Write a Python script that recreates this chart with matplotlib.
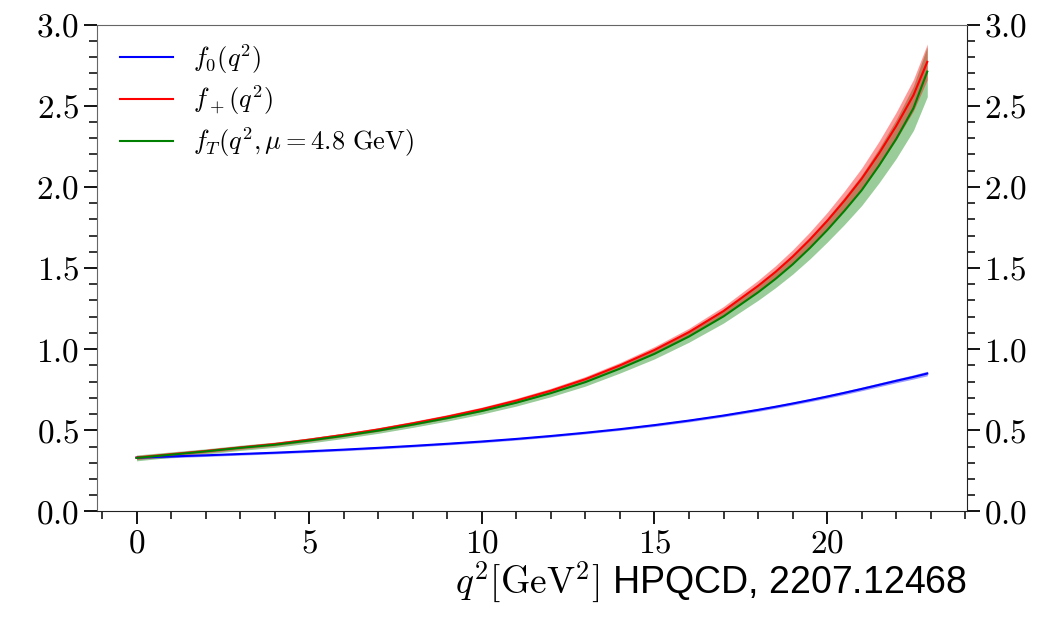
import numpy as np
import matplotlib
matplotlib.use('Agg')
import matplotlib.pyplot as plt
from matplotlib.ticker import MultipleLocator, FuncFormatter

plt.rcParams['font.family'] = ['Liberation Sans', 'DejaVu Sans']
plt.rcParams['mathtext.fontset'] = 'cm'

# form factors (B -> K, HPQCD 2207.12468)
q2 = [0, 1, 2, 3, 4, 5, 6, 7, 8, 9, 10, 11, 12, 13, 14, 15, 16, 17,
      18, 18.5, 19, 19.5, 20, 20.5, 21, 21.5, 22, 22.5, 22.9]
f0 = [0.332, 0.339, 0.346, 0.354, 0.362, 0.371, 0.381, 0.392, 0.404, 0.417,
      0.431, 0.447, 0.465, 0.485, 0.507, 0.532, 0.560, 0.591, 0.626, 0.645,
      0.665, 0.686, 0.708, 0.731, 0.755, 0.780, 0.805, 0.829, 0.850]
f0_err = [0.008, 0.008, 0.007, 0.007, 0.007, 0.007, 0.007, 0.007, 0.007, 0.007,
          0.007, 0.007, 0.007, 0.007, 0.007, 0.008, 0.008, 0.008, 0.009, 0.009,
          0.009, 0.0095, 0.010, 0.0105, 0.011, 0.0115, 0.012, 0.013, 0.014]
fplus = [0.332, 0.352, 0.372, 0.394, 0.415, 0.442, 0.472, 0.505, 0.543, 0.584,
         0.630, 0.683, 0.744, 0.815, 0.900, 0.995, 1.105, 1.235, 1.390, 1.475,
         1.570, 1.675, 1.790, 1.915, 2.050, 2.205, 2.375, 2.565, 2.770]
fplus_err = [0.012, 0.0115, 0.011, 0.011, 0.011, 0.011, 0.011, 0.0115, 0.012, 0.0125,
             0.013, 0.014, 0.015, 0.0165, 0.018, 0.021, 0.024, 0.028, 0.034, 0.038,
             0.042, 0.047, 0.052, 0.059, 0.066, 0.075, 0.085, 0.097, 0.110]
fT = [0.330, 0.350, 0.370, 0.392, 0.411, 0.437, 0.466, 0.498, 0.535, 0.575,
      0.619, 0.670, 0.729, 0.797, 0.880, 0.971, 1.078, 1.202, 1.350, 1.432,
      1.522, 1.623, 1.733, 1.852, 1.979, 2.130, 2.295, 2.485, 2.710]
fT_err = [0.018, 0.017, 0.016, 0.016, 0.016, 0.016, 0.016, 0.0165, 0.017, 0.018,
          0.019, 0.0205, 0.022, 0.0245, 0.027, 0.031, 0.035, 0.041, 0.049, 0.054,
          0.060, 0.067, 0.074, 0.084, 0.094, 0.106, 0.120, 0.137, 0.155]

q2 = np.array(q2)
series = [
    (np.array(f0), np.array(f0_err), 'b', r'$f_0(q^2)$'),
    (np.array(fplus), np.array(fplus_err), 'r', r'$f_+(q^2)$'),
    (np.array(fT), np.array(fT_err), 'g', r'$f_T(q^2,\mu=4.8\ \mathrm{GeV})$'),
]

fig = plt.figure(figsize=(10.61, 6.19), dpi=100)
ax = fig.add_axes([0.0914, 0.1737, 0.82, 0.7867])

# bands first (tensor band under the vector band), then the central lines
for i in [0, 2, 1]:
    y, e, c, lab = series[i]
    ax.fill_between(q2, y - e, y + e, color=c, alpha=0.4, lw=0)
for y, e, c, lab in series:
    ax.plot(q2, y, color=c, lw=1.5, label=lab)

ax.set_xlim(-1.145, 24.05)
ax.set_ylim(0, 3.0)

ax.xaxis.set_major_locator(MultipleLocator(5))
ax.xaxis.set_minor_locator(MultipleLocator(1))
ax.yaxis.set_major_locator(MultipleLocator(0.5))
ax.yaxis.set_minor_locator(MultipleLocator(0.1))
ax.xaxis.set_major_formatter(FuncFormatter(lambda v, p: r'$%d$' % round(v)))
ax.yaxis.set_major_formatter(FuncFormatter(lambda v, p: r'$%.1f$' % v))

ax.tick_params(axis='both', which='major', direction='out', length=9.5,
               width=1.3, labelsize=24, pad=3)
ax.tick_params(axis='both', which='minor', direction='out', length=5.5, width=1.1)
ax.tick_params(axis='y', which='both', left=True, right=True,
               labelleft=True, labelright=True)
ax.tick_params(axis='x', which='both', top=False)

for s in ['left', 'top']:
    ax.spines[s].set_color('#666666')
for s in ['right', 'bottom']:
    ax.spines[s].set_color('#222222')

ax.set_xlabel(r'$q^2[\mathrm{GeV}^2]$ HPQCD, 2207.12468', loc='right',
              fontsize=27, labelpad=0)

ax.legend(loc='upper left', bbox_to_anchor=(0.0143, 0.986), frameon=False,
          fontsize=19, handlelength=2.0, handletextpad=0.75,
          labelspacing=0.3, borderaxespad=0)

fig.savefig('out.png', dpi=100)
